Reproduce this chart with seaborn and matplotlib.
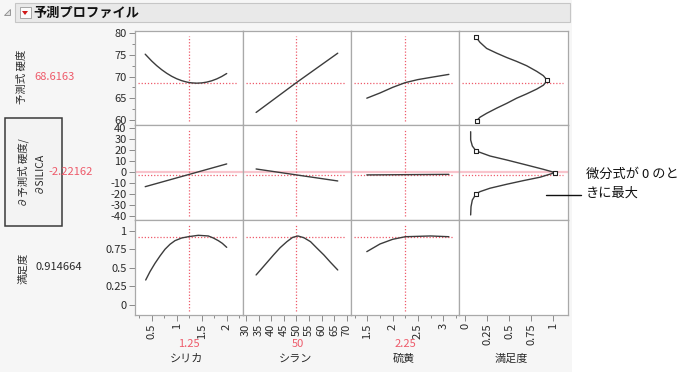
import matplotlib
matplotlib.use("Agg")
import matplotlib.pyplot as plt
import seaborn as sns
from matplotlib.patches import Rectangle, Polygon
from matplotlib.ticker import MultipleLocator, FixedLocator, FuncFormatter

# ---------------- data ----------------
factors = ["シリカ", "シラン", "硫黄", "満足度"]
current_values = ["1.25", "50", "2.25"]
current_x = [1.25, 50, 2.25]
pred_value = 68.6163
deriv_value = -2.22162
desir_value = 0.914664

# シリカ
silica_x = [0.37, 0.5, 0.6, 0.7, 0.8, 0.9, 1.0, 1.1, 1.2, 1.25, 1.3, 1.4, 1.5, 1.6, 1.7, 1.8, 1.9, 2.0]
silica_hard = [75.17, 73.59, 72.52, 71.58, 70.76, 70.06, 69.49, 69.05, 68.73, 68.62, 68.54, 68.47,
               68.53, 68.71, 69.02, 69.45, 70.01, 70.70]
silica_deriv_x = [0.37, 2.0]
silica_deriv = [-13.2, 7.5]
silica_desir_x = [0.38, 0.466, 0.566, 0.666, 0.766, 0.866, 0.966, 1.1, 1.232, 1.432, 1.632, 1.732,
                  1.832, 1.912, 2.0]
silica_desir = [0.336, 0.449, 0.561, 0.66, 0.75, 0.817, 0.866, 0.902, 0.919, 0.938, 0.929, 0.902,
                0.866, 0.83, 0.776]

# シラン
silane_x = [34.0, 50.0, 66.4]
silane_hard = [61.7, 68.6, 75.4]
silane_deriv_x = [34.0, 66.4]
silane_deriv = [2.9, -8.0]
silane_desir_x = [34.0, 37.5, 40.9, 43.5, 46.2, 48.5, 50.6, 53.0, 55.6, 58.0, 60.9, 63.5, 66.4]
silane_desir = [0.404, 0.54, 0.673, 0.77, 0.852, 0.91, 0.929, 0.905, 0.852, 0.77, 0.673, 0.575, 0.471]

# 硫黄
sulfur_x = [1.49, 1.75, 2.0, 2.25, 2.5, 2.75, 3.11]
sulfur_hard = [65.0, 66.2, 67.5, 68.6, 69.3, 69.8, 70.5]
sulfur_deriv_x = [1.49, 3.11]
sulfur_deriv = [-2.5, -2.0]
sulfur_desir_x = [1.49, 1.75, 2.0, 2.25, 2.75, 3.11]
sulfur_desir = [0.718, 0.821, 0.884, 0.919, 0.929, 0.919]

# 満足度 (desirability functions)
dfun_hard_d = [0.125, 0.170, 0.245, 0.359, 0.472, 0.585, 0.698, 0.812, 0.887, 0.932,
               0.887, 0.812, 0.698, 0.585, 0.472, 0.359, 0.245, 0.170, 0.132]
dfun_hard_y = [79.1, 77.9, 76.5, 75.4, 74.4, 73.5, 72.5, 71.2, 70.2, 69.1,
               68.0, 67.1, 66.0, 65.0, 63.8, 62.7, 61.5, 60.6, 59.8]
dfun_hard_pts_d = [0.125, 0.932, 0.132]
dfun_hard_pts_y = [79.1, 69.1, 59.8]
dfun_der_d = [0.064, 0.064, 0.083, 0.125, 0.283, 0.472, 0.698, 0.887, 1.02,
              0.849, 0.66, 0.472, 0.283, 0.17, 0.125, 0.083, 0.068, 0.064]
dfun_der_y = [36.8, 29.3, 23.8, 19.3, 14.7, 11.1, 6.5, 2.6, -0.4,
              -4.6, -7.7, -11.0, -14.6, -17.7, -19.8, -25.3, -31.4, -38.9]
dfun_der_pts_d = [0.125, 1.02, 0.125]
dfun_der_pts_y = [19.3, -0.4, -19.8]

# ticks
xticks = [[0.5, 1, 1.5, 2], [30, 35, 40, 45, 50, 55, 60, 65, 70], [1.5, 2, 2.5, 3], [0, 0.25, 0.5, 0.75, 1]]
yticks = [[60, 65, 70, 75, 80], [-40, -30, -20, -10, 0, 10, 20, 30, 40], [0, 0.25, 0.5, 0.75, 1]]
xlims = [(0.166, 2.326), (28.8, 71.66), (1.178, 3.31), (-0.068, 1.166)]
ylims = [(58.8, 80.53), (-43.5, 42.9), (-0.135, 1.144)]

# ---------------- style ----------------
sns.set_theme(style="white")
plt.rcParams["font.family"] = ["Noto Sans CJK JP", "DejaVu Sans"]
plt.rcParams["axes.unicode_minus"] = False

W, H = 678, 372
fig = plt.figure(figsize=(W / 100, H / 100), dpi=100)
fig.patch.set_facecolor("white")

def fx(px):
    return px / W

def fy(py):
    return 1 - py / H

# background
fig.patches.append(Rectangle((0, 0), fx(572), 1, transform=fig.transFigure,
                             facecolor="#f6f6f6", edgecolor="none", zorder=-5))
# header bar
fig.patches.append(Rectangle((fx(15), fy(22)), fx(570) - fx(15), fy(3) - fy(22),
                             transform=fig.transFigure, facecolor="#e9e9e9",
                             edgecolor="#c6c6c6", lw=0.8, zorder=1))
fig.patches.append(Polygon([[fx(4), fy(15)], [fx(10), fy(15)], [fx(10), fy(9)]], closed=True,
                           transform=fig.transFigure, facecolor="#e0e0e0", edgecolor="#8a8a8a",
                           lw=0.6, zorder=2))
fig.patches.append(Rectangle((fx(19.5), fy(18)), fx(11), fy(7) - fy(18), transform=fig.transFigure,
                             facecolor="#fbfbfb", edgecolor="#9a9a9a", lw=0.6, zorder=2))
fig.patches.append(Polygon([[fx(22), fy(11)], [fx(28), fy(11)], [fx(25), fy(15)]], closed=True,
                           transform=fig.transFigure, facecolor="#d01818", edgecolor="none", zorder=3))
fig.text(fx(33), fy(12.5), "予測プロファイル", fontsize=9.5, fontweight="bold",
         ha="left", va="center", color="#111111")

# panels
col_left = [135, 243, 351, 459]
col_w = [108, 108, 108, 109]
row_top = [31, 125, 220]
row_h = [94, 95, 95]

red = "#ee5a6a"
curve_c = "#3c3c3c"
spine_c = "#a9a9a9"

rows_data = [
    [(silica_x, silica_hard), (silane_x, silane_hard), (sulfur_x, sulfur_hard)],
    [(silica_deriv_x, silica_deriv), (silane_deriv_x, silane_deriv), (sulfur_deriv_x, sulfur_deriv)],
    [(silica_desir_x, silica_desir), (silane_desir_x, silane_desir), (sulfur_desir_x, sulfur_desir)],
]
hvals = [pred_value, deriv_value, desir_value]

fmt = FuncFormatter(lambda v, p: f"{v:g}")

for r in range(3):
    for c in range(4):
        ax = fig.add_axes([fx(col_left[c]), fy(row_top[r] + row_h[r]), col_w[c] / W, row_h[r] / H])
        ax.set_zorder(3)
        ax.set_facecolor("white")
        ax.set_xlim(*xlims[c])
        ax.set_ylim(*ylims[r])
        for s in ax.spines.values():
            s.set_color(spine_c)
            s.set_linewidth(0.9)
        ax.tick_params(which="both", direction="out", color="#8a8a8a", labelsize=8,
                       labelcolor="#2a2a2a", width=0.7)
        ax.tick_params(which="major", length=4, pad=2)
        ax.tick_params(which="minor", length=2)
        # x ticks
        if r == 2:
            ax.xaxis.set_major_locator(FixedLocator(xticks[c]))
            ax.xaxis.set_major_formatter(fmt)
            if c in (0, 2):
                ax.xaxis.set_minor_locator(MultipleLocator(0.25))
            ax.tick_params(axis="x", which="both", bottom=True, labelbottom=True, labelrotation=90)
        else:
            ax.set_xticks([])
        # y ticks
        if c == 0:
            ax.yaxis.set_major_locator(FixedLocator(yticks[r]))
            ax.yaxis.set_major_formatter(fmt)
            if r == 0:
                ax.yaxis.set_minor_locator(MultipleLocator(2.5))
            ax.tick_params(axis="y", which="both", left=True, labelleft=True)
        else:
            ax.set_yticks([])

        if r == 1:
            ax.axhline(0, color="#f8c4cc", lw=1.6, zorder=1)

        if c < 3:
            xs, ys = rows_data[r][c]
            ax.axvline(current_x[c], ymin=0.04, ymax=0.95, color=red, lw=0.9,
                       linestyle=(0, (1, 1.5)), zorder=2)
            ax.axhline(hvals[r], xmin=0.03, xmax=0.95, color=red, lw=0.9,
                       linestyle=(0, (1, 1.5)), zorder=2)
            sns.lineplot(x=xs, y=ys, ax=ax, color=curve_c, lw=1.0, sort=False,
                         estimator=None, zorder=3)
        else:
            if r == 0:
                ax.axhline(pred_value, xmin=0.03, xmax=0.95, color=red, lw=0.9,
                           linestyle=(0, (1, 1.5)), zorder=2)
                sns.lineplot(x=dfun_hard_d, y=dfun_hard_y, ax=ax, color=curve_c, lw=1.0,
                             sort=False, estimator=None, zorder=3)
                sns.scatterplot(x=dfun_hard_pts_d, y=dfun_hard_pts_y, ax=ax, marker="s", s=12,
                                facecolor="white", edgecolor="#222222", linewidth=0.8, zorder=4)
            elif r == 1:
                ax.axhline(deriv_value, xmin=0.03, xmax=0.95, color=red, lw=0.9,
                           linestyle=(0, (1, 1.5)), zorder=2)
                sns.lineplot(x=dfun_der_d, y=dfun_der_y, ax=ax, color=curve_c, lw=1.0,
                             sort=False, estimator=None, zorder=3)
                sns.scatterplot(x=dfun_der_pts_d, y=dfun_der_pts_y, ax=ax, marker="s", s=12,
                                facecolor="white", edgecolor="#222222", linewidth=0.8, zorder=4)
        ax.set_xlim(*xlims[c])
        ax.set_ylim(*ylims[r])
        ax.set_xlabel("")
        ax.set_ylabel("")

# labels under x axes
centers = [189, 297.5, 405.5, 513]
for i in range(3):
    fig.text(fx(centers[i]), fy(344), current_values[i], color=red, fontsize=8,
             ha="center", va="center")
for i in range(4):
    fig.text(fx(centers[i] - 2), fy(359), factors[i], color="#2a2a2a", fontsize=8,
             ha="center", va="center")

# left side labels
fig.text(fx(22), fy(77), "予測式 硬度", rotation=90, fontsize=7.5, color="#2a2a2a",
         ha="center", va="center")
fig.text(fx(34), fy(77.5), f"{pred_value:g}", color=red, fontsize=8, ha="left", va="center")

fig.patches.append(Rectangle((fx(5), fy(226)), fx(62) - fx(5), fy(118) - fy(226),
                             transform=fig.transFigure, facecolor="#f3f3f3",
                             edgecolor="#3a3a3a", lw=1.1, zorder=1))
fig.text(fx(30.5), fy(172.5), "∂予測式 硬度/\n∂SILICA", rotation=90, fontsize=7.5,
         color="#2a2a2a", ha="center", va="center", linespacing=1.5, multialignment="center")
fig.text(fx(48), fy(172.5), f"{deriv_value:g}", color=red, fontsize=8, ha="left", va="center")

fig.text(fx(23), fy(268), "満足度", rotation=90, fontsize=7.5, color="#2a2a2a",
         ha="center", va="center")
fig.text(fx(35), fy(267.5), f"{desir_value:g}", color="#2a2a2a", fontsize=8, ha="left", va="center")

# annotation on the right
fig.text(fx(586), fy(174), "微分式が 0 のと", fontsize=9.5, color="#111111", ha="left", va="center")
fig.text(fx(586), fy(193), "きに最大", fontsize=9.5, color="#111111", ha="left", va="center")
fig.add_artist(plt.Line2D([fx(546), fx(581)], [fy(195), fy(195)], transform=fig.transFigure,
                          color="#111111", lw=1.0, zorder=20))

fig.savefig("out.png", dpi=100, facecolor=fig.get_facecolor())
